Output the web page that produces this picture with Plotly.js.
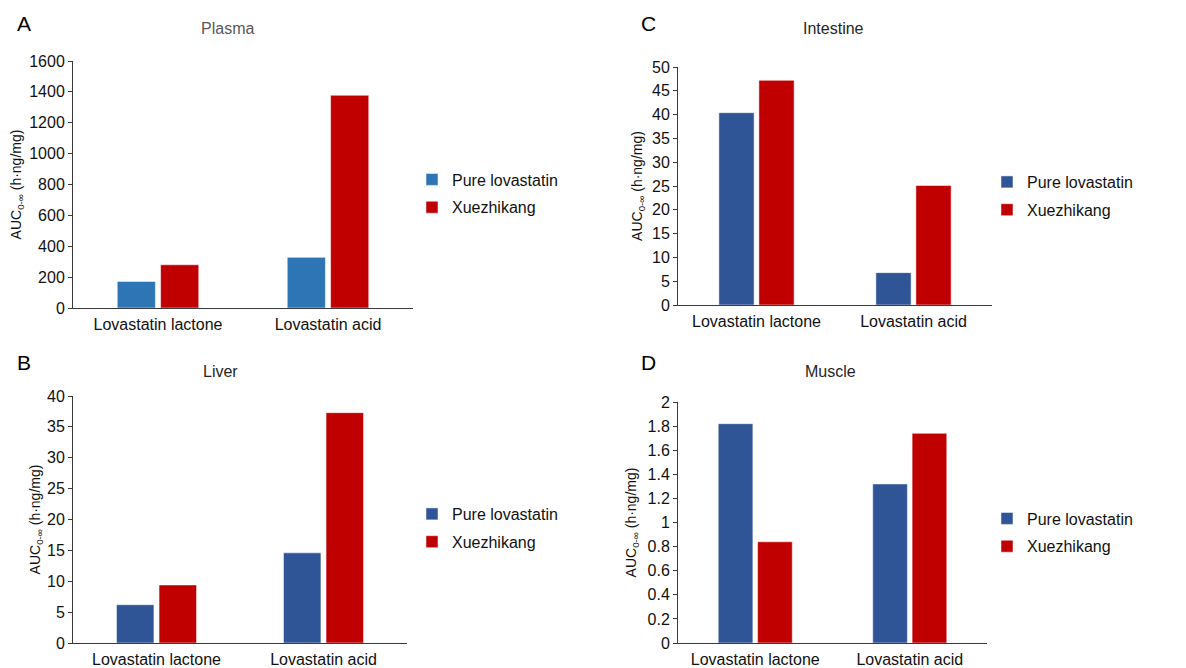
<!DOCTYPE html>
<html>
<head>
<meta charset="utf-8">
<script src="https://cdn.plot.ly/plotly-3.0.1.min.js"></script>
<style>html,body{margin:0;padding:0;background:#fff;}#chart{width:1186px;height:668px;}</style>
</head>
<body>
<div id="chart"></div>
<script>
// ---- data ----
const categories = ["Lovastatin lactone", "Lovastatin acid"];
const seriesNames = ["Pure lovastatin", "Xuezhikang"];
const plasmaPure = [172, 328];
const plasmaXzk = [280, 1378];
const intestinePure = [40.4, 6.8];
const intestineXzk = [47.2, 25.1];
const liverPure = [6.2, 14.6];
const liverXzk = [9.4, 37.3];
const musclePure = [1.82, 1.32];
const muscleXzk = [0.84, 1.74];
const panelTitles = ["Plasma", "Intestine", "Liver", "Muscle"];
const panelLetters = ["A", "C", "B", "D"];
const yRanges = [[0, 1600], [0, 50], [0, 40], [0, 2]];
const yDtick = [200, 5, 5, 0.2];

const FONT = "Arial, 'Liberation Sans', sans-serif";
const blueA = "#2E75B6", blueB = "#2F5597", red = "#C00000";
const W = 1186, H = 668;
const px = v => v / W, py = v => 1 - v / H;

const panels = [
  {pure: plasmaPure, xzk: plasmaXzk, blue: blueA, xd: [73, 413], yd: [308, 61], leg: "legend", titleColor: "#595959", tx: 228, ty: 29, lx: 24, ly: 24},
  {pure: intestinePure, xzk: intestineXzk, blue: blueB, xd: [678, 992], yd: [305, 67], leg: "legend2", titleColor: "#262626", tx: 833, ty: 29, lx: 648, ly: 24},
  {pure: liverPure, xzk: liverXzk, blue: blueB, xd: [73, 407], yd: [643, 396], leg: "legend3", titleColor: "#262626", tx: 220, ty: 372, lx: 24, ly: 362},
  {pure: musclePure, xzk: muscleXzk, blue: blueB, xd: [678, 987], yd: [643, 402], leg: "legend4", titleColor: "#262626", tx: 830, ty: 371, lx: 648, ly: 362}
];
const titleStandoff = [4, 6, 3, 7];

const traces = [];
const layout = {
  width: W, height: H,
  margin: {l: 0, r: 0, t: 0, b: 0, autoexpand: false},
  paper_bgcolor: "#fff", plot_bgcolor: "#fff",
  font: {family: FONT, size: 16, color: "#000"},
  barmode: "group", bargap: 0.49, bargroupgap: 0.12,
  annotations: [], showlegend: true
};

const legendPos = [
  {x: 412, y: 193.5},
  {x: 987, y: 196},
  {x: 412, y: 528},
  {x: 987, y: 532.5}
];

panels.forEach((p, i) => {
  const n = i === 0 ? "" : String(i + 1);
  const xa = "x" + n, ya = "y" + n;
  traces.push({
    type: "bar", x: categories, y: p.pure, name: seriesNames[0],
    xaxis: xa, yaxis: ya, legend: p.leg, legendgroup: "g" + i + "a",
    marker: {color: p.blue, line: {color: "rgba(255,255,255,0.5)", width: 1}},
    hoverinfo: "skip"
  });
  traces.push({
    type: "bar", x: categories, y: p.xzk, name: seriesNames[1],
    xaxis: xa, yaxis: ya, legend: p.leg, legendgroup: "g" + i + "b",
    marker: {color: red, line: {color: "rgba(255,255,255,0.5)", width: 1}},
    hoverinfo: "skip"
  });
  layout["xaxis" + n] = {
    domain: [px(p.xd[0]), px(p.xd[1])], anchor: ya,
    type: "category", showgrid: false, zeroline: false,
    showline: true, linecolor: "#3a3a3a", linewidth: 1,
    ticks: "", ticklabelstandoff: 2,
    tickfont: {family: FONT, size: 16, color: "#111"},
    automargin: false,
    fixedrange: true
  };
  layout["yaxis" + n] = {
    domain: [py(p.yd[0]), py(p.yd[1])], anchor: xa,
    range: yRanges[i], dtick: yDtick[i], tick0: 0,
    showgrid: false, zeroline: false,
    showline: true, linecolor: "#3a3a3a", linewidth: 1,
    ticks: "outside", ticklen: 4, tickcolor: "#3a3a3a",
    tickfont: {family: FONT, size: 16, color: "#111"},
    automargin: true,
    title: {text: "AUC<sub>0-∞</sub> (h·ng/mg)", font: {family: FONT, size: 14, color: "#111"}, standoff: titleStandoff[i]},
    fixedrange: true
  };
  layout[p.leg] = {
    x: px(legendPos[i].x), y: py(legendPos[i].y),
    xanchor: "left", yanchor: "middle",
    bgcolor: "rgba(0,0,0,0)", borderwidth: 0,
    font: {family: FONT, size: 16, color: "#111"},
    tracegroupgap: 4, itemclick: false, itemdoubleclick: false
  };
  layout.annotations.push({
    xref: "paper", yref: "paper", x: px(p.tx), y: py(p.ty),
    text: panelTitles[i], showarrow: false, xanchor: "center", yanchor: "middle",
    font: {family: FONT, size: 16, color: p.titleColor}
  });
  layout.annotations.push({
    xref: "paper", yref: "paper", x: px(p.lx), y: py(p.ly),
    text: panelLetters[i], showarrow: false, xanchor: "center", yanchor: "middle",
    font: {family: FONT, size: 21, color: "#000"}
  });
});

Plotly.newPlot("chart", traces, layout, {displayModeBar: false, staticPlot: true});
</script>
</body>
</html>
